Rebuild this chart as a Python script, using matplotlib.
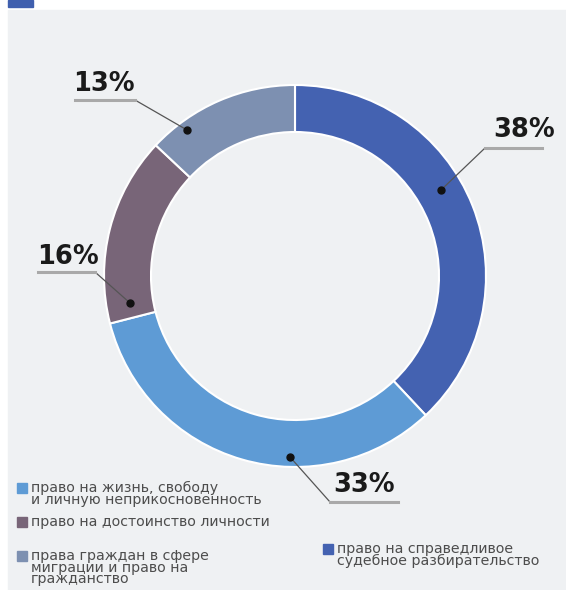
import matplotlib
matplotlib.use("Agg")
import matplotlib.pyplot as plt
from matplotlib.patches import Rectangle

# shares of complaints by right, %
labels = ["право на справедливое\nсудебное разбирательство",
          "право на жизнь, свободу\nи личную неприкосновенность",
          "право на достоинство личности",
          "права граждан в сфере\nмиграции и право на\nгражданство"]
values = [38, 33, 16, 13]
colors = ["#4462b1", "#5e9bd5", "#786578", "#7d90b1"]

W, H = 566, 590
fig = plt.figure(figsize=(W / 100, H / 100), dpi=100, facecolor="white")
ax = fig.add_axes([0, 0, 1, 1])

def py(y):  # pixel row -> data y
    return H - y

# background panel and the cut header marker
ax.add_patch(Rectangle((8, 0), W - 8, py(10), color="#eff1f3", zorder=0))
ax.add_patch(Rectangle((8, py(7)), 25, 7, color="#3f5fae", zorder=1))

ax.pie(values, colors=colors, startangle=90, counterclock=False,
       radius=191, center=(295, py(276)), frame=True,
       wedgeprops=dict(width=47, edgecolor="white", linewidth=1.5))

# label annotations: dot, leader end, underline span, text spot
notes = [
    ((441, 190), (485, 148), (485, 542), (524, 130)),
    ((290, 457), (330, 502), (330, 398), (364, 485)),
    ((130, 303), (95, 272), (38, 95), (68, 257)),
    ((187, 130), (135, 100), (75, 135), (104, 84)),
]
for v, (dot, knee, span, txt) in zip(values, notes):
    ax.plot([dot[0], knee[0]], [py(dot[1]), py(knee[1])], color="#555555", lw=0.9, zorder=3)
    ax.plot([span[0], span[1]], [py(knee[1])] * 2, color="#a9a9a9", lw=2.2, zorder=3)
    ax.plot(dot[0], py(dot[1]), "o", color="#111111", ms=5, zorder=4)
    ax.text(txt[0], py(txt[1]), f"{v}%", fontsize=18.5, fontweight="bold",
            color="#1a1a1a", ha="center", va="center", zorder=4)

# legend
leg_pos = [(328, 549), (22, 488), (22, 522), (22, 556)]
for lab, col, (x, y) in zip(labels, colors, leg_pos):
    ax.add_patch(Rectangle((x - 5, py(y) - 5), 10, 10, color=col, zorder=3))
    ax.text(x + 9, py(y) + 7, lab, fontsize=10.2, color="#4d4d4d",
            ha="left", va="top", linespacing=0.78, zorder=3)

ax.set_xlim(0, W)
ax.set_ylim(0, H)
ax.set_aspect("auto")
ax.axis("off")

fig.savefig("out.png", dpi=100, facecolor="white")
